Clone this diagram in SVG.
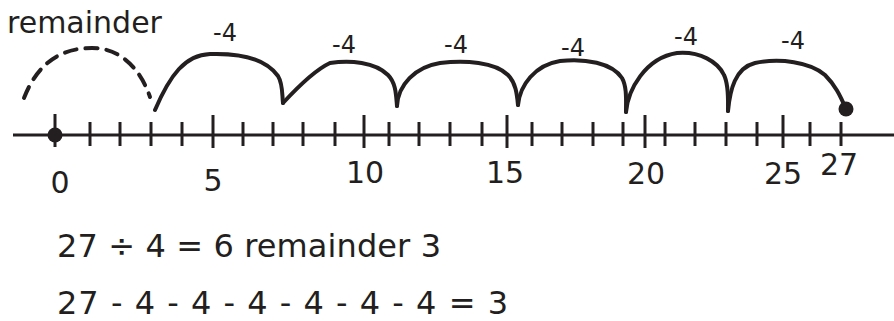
<svg xmlns="http://www.w3.org/2000/svg" width="894" height="321" viewBox="0 0 894 321">
<style>
text{font-family:"DejaVu Sans","Verdana",sans-serif;fill:#231f20}
.num{font-size:30px;text-anchor:middle}
.jl{font-size:24px;text-anchor:middle}
.eq{font-size:32px}
.arc{fill:none;stroke:#231f20;stroke-width:4;stroke-linecap:round;stroke-linejoin:round}
.tick{stroke:#231f20;stroke-width:3}
</style>
<rect width="894" height="321" fill="#fff"/>
<g id="axis">
<line x1="13" y1="135" x2="894" y2="135" class="tick"/>
<g class="tick">
<line x1="55" y1="114" x2="55" y2="147"/>
<line x1="90" y1="122" x2="90" y2="146"/>
<line x1="120" y1="122" x2="120" y2="146"/>
<line x1="151" y1="122" x2="151" y2="146"/>
<line x1="182" y1="122" x2="182" y2="146"/>
<line x1="213" y1="115" x2="213" y2="148"/>
<line x1="243" y1="122" x2="243" y2="146"/>
<line x1="273" y1="122" x2="273" y2="146"/>
<line x1="303" y1="122" x2="303" y2="146"/>
<line x1="335" y1="122" x2="335" y2="146"/>
<line x1="364" y1="115" x2="364" y2="148"/>
<line x1="389" y1="122" x2="389" y2="146"/>
<line x1="419" y1="122" x2="419" y2="146"/>
<line x1="450" y1="122" x2="450" y2="146"/>
<line x1="482" y1="122" x2="482" y2="146"/>
<line x1="507" y1="115" x2="507" y2="148"/>
<line x1="532" y1="122" x2="532" y2="146"/>
<line x1="562" y1="122" x2="562" y2="146"/>
<line x1="593" y1="122" x2="593" y2="146"/>
<line x1="623" y1="122" x2="623" y2="146"/>
<line x1="645" y1="115" x2="645" y2="148"/>
<line x1="665" y1="122" x2="665" y2="146"/>
<line x1="695" y1="122" x2="695" y2="146"/>
<line x1="726" y1="122" x2="726" y2="146"/>
<line x1="757" y1="122" x2="757" y2="146"/>
<line x1="783" y1="115" x2="783" y2="148"/>
<line x1="810" y1="122" x2="810" y2="146"/>
<line x1="841" y1="122" x2="841" y2="146"/>
</g>
<text class="num" x="60" y="193">0</text>
<text class="num" x="213" y="191">5</text>
<text class="num" x="365" y="183">10</text>
<text class="num" x="505" y="183">15</text>
<text class="num" x="646" y="184">20</text>
<text class="num" x="783" y="184">25</text>
<text class="num" x="839" y="175">27</text>
</g>
<g id="points">
<circle cx="55" cy="135" r="7.5" fill="#231f20"/>
<circle cx="846" cy="109" r="7.5" fill="#231f20"/>
</g>
<g id="jumps">
<path class="arc" stroke-dasharray="12 9" d="M24,98 C38,62 62,48 92,48 C120,48 140,68 150,97"/>
<path class="arc" d="M155,110 C170,75 185,55 210,54 C240,53 265,58 278,76 C283,84 282,95 283,103"/>
<path class="arc" d="M283,103 C295,90 315,70 330,63 C350,60 375,62 388,75 C396,83 396,95 397,106"/>
<path class="arc" d="M397,106 C398,85 415,67 440,63 C465,60 495,62 508,75 C516,83 517,95 518,105"/>
<path class="arc" d="M518,105 C520,85 535,65 560,61 C585,58 612,63 622,78 C627,87 626,100 626,112"/>
<path class="arc" d="M626,112 C628,90 645,58 677,53 C700,51 718,62 724,75 C729,85 728,100 728,111"/>
<path class="arc" d="M728,111 C730,90 735,68 755,63 C780,58 810,62 825,75 C835,85 840,95 846,109"/>
</g>
<g id="labels">
<text x="7" y="33" style="font-size:30px">remainder</text>
<text class="jl" x="225" y="41">-4</text>
<text class="jl" x="344" y="53">-4</text>
<text class="jl" x="456" y="53">-4</text>
<text class="jl" x="573" y="56">-4</text>
<text class="jl" x="686" y="45">-4</text>
<text class="jl" x="793" y="49">-4</text>
</g>
<g id="equations">
<text class="eq" x="57" y="257" textLength="384" lengthAdjust="spacing">27 ÷ 4 = 6 remainder 3</text>
<text class="eq" x="57" y="314" textLength="451" lengthAdjust="spacing">27 - 4 - 4 - 4 - 4 - 4 - 4 = 3</text>
</g>
</svg>
